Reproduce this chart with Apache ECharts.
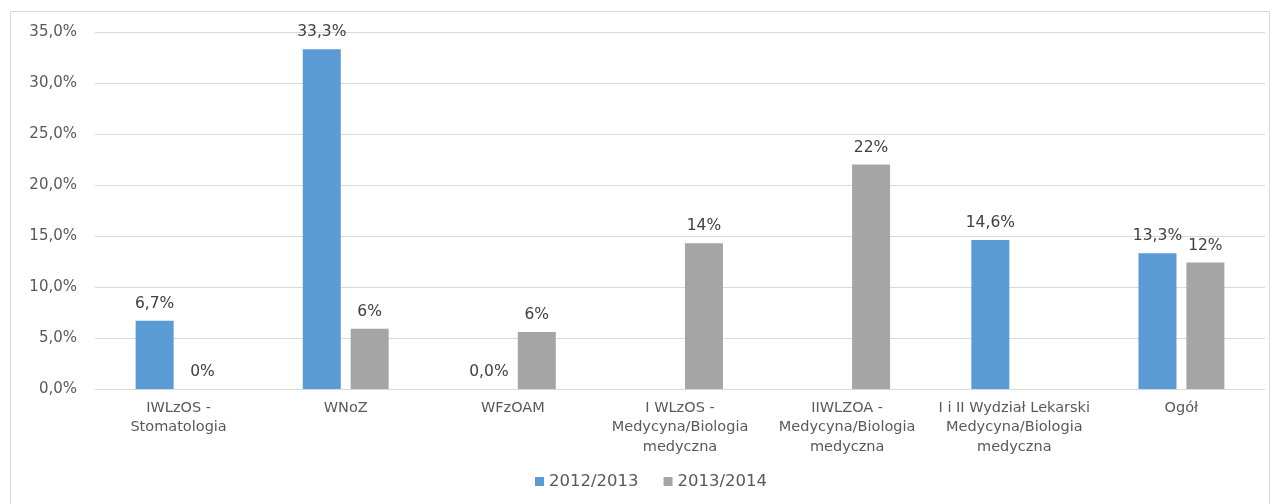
<!DOCTYPE html>
<html><head><meta charset="utf-8">
<script src="https://cdn.jsdelivr.net/npm/echarts@6/dist/echarts.min.js"></script>
<style>html,body{margin:0;padding:0;background:#fff}#c{width:1275px;height:504px}</style>
</head><body><div id="c"></div>
<script>
const categories = ["IWLzOS -\nStomatologia", "WNoZ", "WFzOAM", "I WLzOS -\nMedycyna/Biologia\nmedyczna", "IIWLZOA -\nMedycyna/Biologia\nmedyczna", "I i II Wydział Lekarski\nMedycyna/Biologia\nmedyczna", "Ogół"];
const seriesNames = ["2012/2013", "2013/2014"];
const values2012 = [6.7, 33.3, 0.0, null, null, 14.6, 13.3];
const values2013 = [0, 5.9, 5.6, 14.3, 22.0, null, 12.4];
const yTicks = {min: 0, max: 35, interval: 5};

const font = "'DejaVu Sans', sans-serif";
const chart = echarts.init(document.getElementById('c'), null, {renderer: 'canvas'});
chart.setOption({
  animation: false,
  backgroundColor: '#fff',
  graphic: [{type: 'rect', shape: {x: 10.5, y: 11.5, width: 1259, height: 520}, style: {fill: 'none', stroke: '#d9d9d9', lineWidth: 1}, silent: true}],
  grid: {left: 95, right: 10, top: 32, bottom: 115, containLabel: false},
  legend: {
    bottom: 9, left: 530, itemWidth: 9, itemHeight: 9, itemGap: 25, icon: 'rect',
    textStyle: {color: '#595959', fontSize: 16.5, fontFamily: font},
    data: seriesNames
  },
  xAxis: {
    type: 'category', data: categories,
    axisLine: {lineStyle: {color: '#d9d9d9'}}, axisTick: {show: false},
    axisLabel: {color: '#595959', fontSize: 14.5, fontFamily: font, lineHeight: 19.5, margin: 9, interval: 0}
  },
  yAxis: {
    type: 'value', min: yTicks.min, max: yTicks.max, interval: yTicks.interval,
    axisLine: {show: false}, axisTick: {show: false},
    splitLine: {lineStyle: {color: '#d9d9d9'}},
    axisLabel: {color: '#595959', fontSize: 15, fontFamily: font, margin: 18,
      formatter: v => v.toFixed(1).replace('.', ',') + '%'}
  },
  series: [
    {name: seriesNames[0], type: 'bar', data: values2012, barWidth: 38, barGap: '26%',
     itemStyle: {color: '#5b9bd5'},
     label: {show: true, position: 'top', distance: 9, color: '#404040', fontSize: 15.5, fontFamily: font,
       formatter: p => p.value == null ? '' : p.value.toFixed(1).replace('.', ',') + '%'}},
    {name: seriesNames[1], type: 'bar', data: values2013, barWidth: 38,
     itemStyle: {color: '#a5a5a5'},
     label: {show: true, position: 'top', distance: 9, color: '#404040', fontSize: 15.5, fontFamily: font,
       formatter: p => p.value == null ? '' : Math.round(p.value) + '%'}}
  ]
});
</script></body></html>
